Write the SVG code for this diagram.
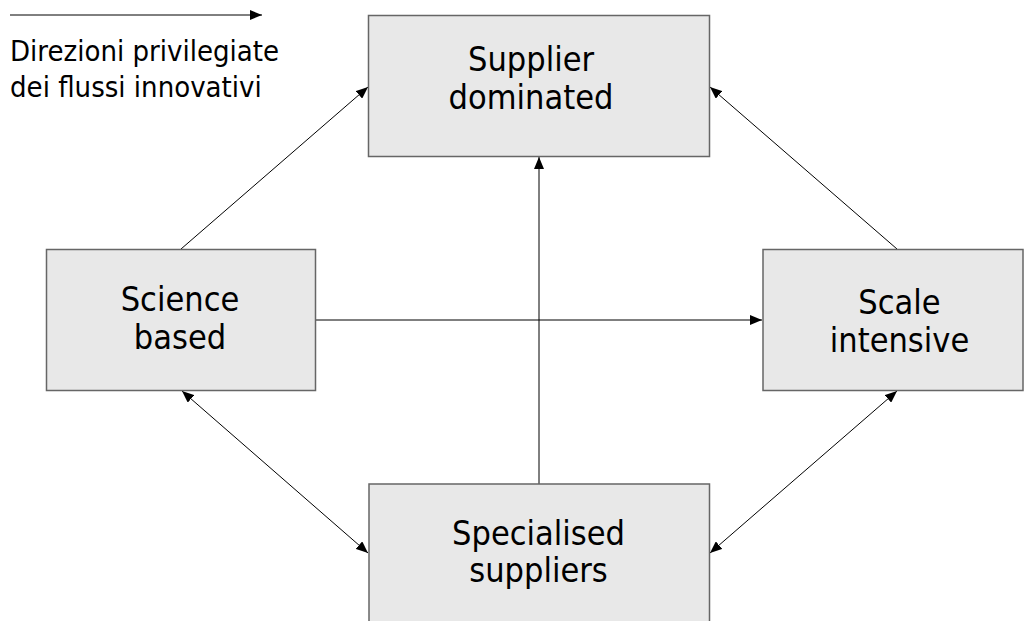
<svg xmlns="http://www.w3.org/2000/svg" width="1025" height="621" viewBox="0 0 1025 621">
  <style>
    .box { fill: #e8e8e8; stroke: #666666; stroke-width: 1.5; }
    .lbl { font-family: "DejaVu Sans Condensed", "DejaVu Sans", sans-serif; font-stretch: condensed; font-size: 34px; fill: #000000; text-anchor: middle; }
    .leg { font-family: "DejaVu Sans Condensed", "DejaVu Sans", sans-serif; font-stretch: condensed; font-size: 29px; fill: #000000; }
    .con { stroke: #000000; stroke-width: 1; fill: none; }
  </style>
  <defs>
    <marker id="ah" markerUnits="userSpaceOnUse" markerWidth="12" markerHeight="10" refX="12" refY="5" orient="auto-start-reverse" viewBox="0 0 12 10">
      <path d="M0,0 L12,5 L0,10 z" fill="#000000"/>
    </marker>
  </defs>
  <rect width="1025" height="621" fill="#ffffff"/>

  <g id="legend">
    <line class="con" x1="10" y1="15" x2="262" y2="15" marker-end="url(#ah)"/>
    <text class="leg" x="10" y="61">Direzioni privilegiate</text>
    <text class="leg" x="10" y="97">dei flussi innovativi</text>
  </g>

  <g id="connectors">
    <line class="con" x1="539" y1="484" x2="539" y2="157" marker-end="url(#ah)"/>
    <line class="con" x1="315" y1="320" x2="762" y2="320" marker-end="url(#ah)"/>
    <line class="con" x1="181" y1="249" x2="368" y2="87" marker-end="url(#ah)"/>
    <line class="con" x1="897" y1="249" x2="710" y2="87" marker-end="url(#ah)"/>
    <line class="con" x1="182" y1="391" x2="368" y2="553" marker-start="url(#ah)" marker-end="url(#ah)"/>
    <line class="con" x1="897" y1="391" x2="710" y2="553" marker-start="url(#ah)" marker-end="url(#ah)"/>
  </g>

  <g id="supplier-dominated">
    <rect class="box" x="368.5" y="15.5" width="341" height="141"/>
    <text class="lbl" x="531" y="71">Supplier</text>
    <text class="lbl" x="531" y="109">dominated</text>
  </g>

  <g id="science-based">
    <rect class="box" x="46.5" y="249.5" width="269" height="141"/>
    <text class="lbl" x="180" y="311">Science</text>
    <text class="lbl" x="180" y="349">based</text>
  </g>

  <g id="scale-intensive">
    <rect class="box" x="763" y="249.5" width="260" height="141"/>
    <text class="lbl" x="899.5" y="314">Scale</text>
    <text class="lbl" x="899.5" y="352">intensive</text>
  </g>

  <g id="specialised-suppliers">
    <rect class="box" x="369" y="484" width="340.5" height="145"/>
    <text class="lbl" x="538.5" y="545">Specialised</text>
    <text class="lbl" x="538.5" y="582">suppliers</text>
  </g>
</svg>
